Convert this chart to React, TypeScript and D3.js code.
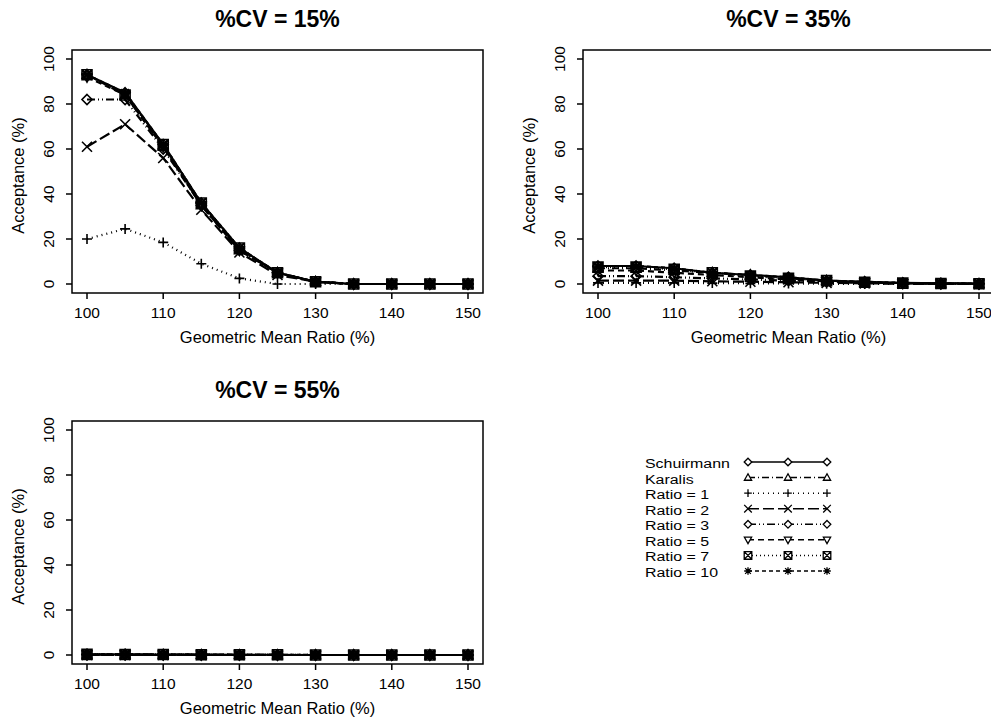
import * as d3 from 'd3';

// Geometric mean ratio (%) on the x axis
const gmr = [100, 105, 110, 115, 120, 125, 130, 135, 140, 145, 150];
const yTicks = [0, 20, 40, 60, 80, 100];
const xTicks = [100, 110, 120, 130, 140, 150];

const seriesNames = ['Schuirmann', 'Karalis', 'Ratio = 1', 'Ratio = 2', 'Ratio = 3', 'Ratio = 5', 'Ratio = 7', 'Ratio = 10'];
const markers = ['diamond', 'triangle', 'plus', 'cross', 'diamond', 'triangleDown', 'boxX', 'asterisk'];
const dashes = ['', '7 3 1 3', '1 4', '11 4', '8 3 1 3 1 3', '6 4', '1 3', '4 3'];

// acceptance (%) per series, in seriesNames order
const cv15 = [
  [93, 85, 62, 36, 16, 5, 1, 0, 0, 0, 0],
  [93, 84, 61, 35, 15, 5, 1, 0, 0, 0, 0],
  [20, 24.5, 18.5, 9, 2.5, 0, 0, 0, 0, 0, 0],
  [61, 71, 56, 33, 14, 4, 1, 0, 0, 0, 0],
  [82, 82, 60, 35, 15, 5, 1, 0, 0, 0, 0],
  [92, 84, 61, 35, 15, 5, 1, 0, 0, 0, 0],
  [93, 84, 62, 36, 16, 5, 1, 0, 0, 0, 0],
  [93, 85, 62, 36, 16, 5, 1, 0, 0, 0, 0],
];
const cv35 = [
  [8, 8, 7, 5, 4, 3, 1.5, 1, 0.5, 0.3, 0.2],
  [7, 7, 6, 5, 4, 2.5, 1.5, 0.8, 0.4, 0.2, 0.1],
  [0.5, 0.5, 0.5, 0.4, 0.3, 0.2, 0.1, 0, 0, 0, 0],
  [1.5, 1.5, 1.5, 1.2, 1, 0.8, 0.5, 0.3, 0.1, 0.1, 0],
  [3.5, 3.5, 3, 2.5, 2, 1.5, 1, 0.5, 0.3, 0.1, 0],
  [6, 6, 5, 4, 3, 2, 1.2, 0.6, 0.3, 0.2, 0.1],
  [7.5, 7.5, 6.5, 5, 3.5, 2.5, 1.5, 0.8, 0.4, 0.2, 0.1],
  [8, 8, 7, 5, 4, 3, 1.5, 1, 0.5, 0.3, 0.2],
];
const cv55 = [
  [0.3, 0.3, 0.2, 0.2, 0.1, 0.1, 0, 0, 0, 0, 0],
  [0.2, 0.2, 0.2, 0.1, 0.1, 0, 0, 0, 0, 0, 0],
  [0, 0, 0, 0, 0, 0, 0, 0, 0, 0, 0],
  [0, 0, 0, 0, 0, 0, 0, 0, 0, 0, 0],
  [0.1, 0.1, 0.1, 0, 0, 0, 0, 0, 0, 0, 0],
  [0.2, 0.2, 0.1, 0.1, 0.1, 0, 0, 0, 0, 0, 0],
  [0.3, 0.2, 0.2, 0.1, 0.1, 0.1, 0, 0, 0, 0, 0],
  [0.3, 0.3, 0.2, 0.2, 0.1, 0.1, 0, 0, 0, 0, 0],
];

const font = '"Liberation Sans", Arial, sans-serif';

function markerPath(kind: string, r: number) {
  switch (kind) {
    case 'diamond':
      return `M0,${-r}L${r},0L0,${r}L${-r},0Z`;
    case 'triangle':
      return `M0,${-r}L${r * 0.95},${r * 0.7}L${-r * 0.95},${r * 0.7}Z`;
    case 'triangleDown':
      return `M0,${r}L${r * 0.95},${-r * 0.7}L${-r * 0.95},${-r * 0.7}Z`;
    case 'plus':
      return `M${-r},0H${r}M0,${-r}V${r}`;
    case 'cross':
      return `M${-r},${-r}L${r},${r}M${-r},${r}L${r},${-r}`;
    case 'boxX':
      return `M${-r},${-r}H${r}V${r}H${-r}ZM${-r},${-r}L${r},${r}M${-r},${r}L${r},${-r}`;
    case 'asterisk':
      return `M${-r},0H${r}M0,${-r}V${r}M${-r * 0.75},${-r * 0.75}L${r * 0.75},${r * 0.75}M${-r * 0.75},${r * 0.75}L${r * 0.75},${-r * 0.75}`;
  }
  return '';
}

function Panel({ data, title, left, top }: { data: number[][]; title: string; left: number; top: number }) {
  // box geometry taken from the R layout
  const boxW = 411, boxH = 243;
  const x = d3.scaleLinear().domain([100, 150]).range([15, 396]);
  const y = d3.scaleLinear().domain([0, 100]).range([234, 9]);
  const line = d3.line<number>().x((_, i) => x(gmr[i])).y(d => y(d));

  return (
    <g transform={`translate(${left},${top})`}>
      <text x={boxW / 2} y={-23} textAnchor="middle" fontSize={23} fontWeight="bold" fontFamily={font}>{title}</text>
      <rect x={0} y={0} width={boxW} height={boxH} fill="none" stroke="#000" strokeWidth={1.5} />
      {xTicks.map(t => (
        <g key={t}>
          <line x1={x(t)} x2={x(t)} y1={boxH} y2={boxH + 6} stroke="#000" strokeWidth={1.5} />
          <text x={x(t)} y={boxH + 25} textAnchor="middle" fontSize={15.5} fontFamily={font}>{t}</text>
        </g>
      ))}
      {yTicks.map(t => (
        <g key={t}>
          <line x1={-6} x2={0} y1={y(t)} y2={y(t)} stroke="#000" strokeWidth={1.5} />
          <text transform={`translate(${-18},${y(t)}) rotate(-90)`} textAnchor="middle" fontSize={15.5} fontFamily={font}>{t}</text>
        </g>
      ))}
      <text x={boxW / 2} y={boxH + 50} textAnchor="middle" fontSize={16.5} fontFamily={font}>Geometric Mean Ratio (%)</text>
      <text transform={`translate(${-48},${(y(0) + y(100)) / 2 + 4}) rotate(-90)`} textAnchor="middle" fontSize={16.5} fontFamily={font}>Acceptance (%)</text>
      {data.map((vals, s) => (
        <g key={s}>
          <path d={line(vals) ?? ''} fill="none" stroke="#000" strokeWidth={2.2} strokeDasharray={dashes[s]} />
          {vals.map((v, i) => (
            <path key={i} transform={`translate(${x(gmr[i])},${y(v)})`} d={markerPath(markers[s], 5)} fill="none" stroke="#000" strokeWidth={1.6} />
          ))}
        </g>
      ))}
    </g>
  );
}

function Legend({ left, top }: { left: number; top: number }) {
  const row = d3.scaleLinear().domain([0, 7]).range([0, 109]);
  const sample = [0, 40, 79];
  return (
    <g transform={`translate(${left},${top})`}>
      {seriesNames.map((name, s) => (
        <g key={name} transform={`translate(0,${row(s)})`}>
          {/* tight R legend rows: narrower type stretched sideways */}
          <text transform="translate(0,5) scale(1.18,1)" fontSize={13.5} fontFamily={font}>{name}</text>
          <line x1={103} x2={182} y1={-1} y2={-1} stroke="#000" strokeWidth={1.5} strokeDasharray={dashes[s]} />
          {sample.map(dx => (
            <path key={dx} transform={`translate(${103 + dx},-1)`} d={markerPath(markers[s], 3.8)} fill="#fff" stroke="#000" strokeWidth={1.3} />
          ))}
        </g>
      ))}
    </g>
  );
}

export default function App() {
  return (
    <svg width={991} height={721} style={{ position: 'absolute', left: 0, top: 0, background: '#fff' }}>
      <rect width={991} height={721} fill="#fff" />
      <Panel data={cv15} title="%CV = 15%" left={72} top={50} />
      <Panel data={cv35} title="%CV = 35%" left={583} top={50} />
      <Panel data={cv55} title="%CV = 55%" left={72} top={421} />
      <Legend left={645} top={463} />
    </svg>
  );
}
